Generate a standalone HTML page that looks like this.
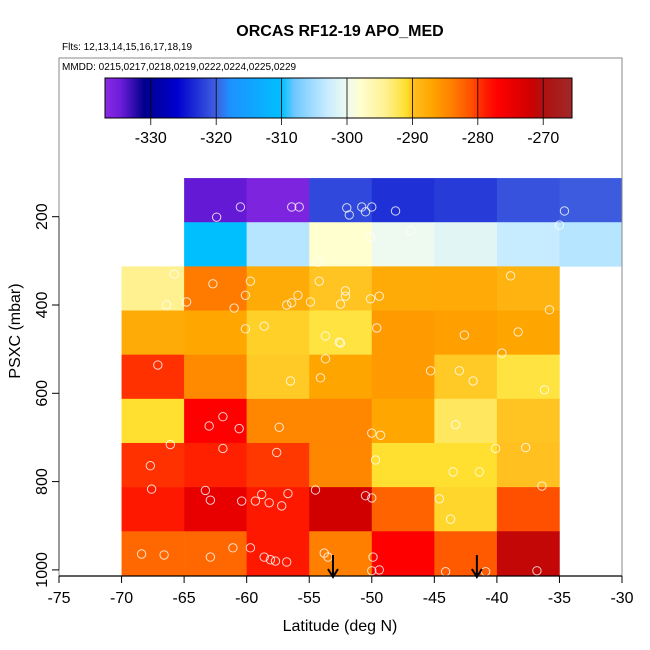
<!DOCTYPE html>
<html><head><meta charset="utf-8"><style>
html,body{margin:0;padding:0;background:#fff}
svg{display:block;font-family:"Liberation Sans",Arial,sans-serif}
</style></head><body>
<svg id="chart" width="650" height="650" viewBox="0 0 650 650">
<text x="340" y="36" text-anchor="middle" font-size="16" font-weight="bold">ORCAS RF12-19 APO_MED</text>
<text x="62" y="50" font-size="10">Flts: 12,13,14,15,16,17,18,19</text>
<g id="plot"></g>
</svg>
<script>
const latEdges0 = [-65,-60,-55,-50,-45,-40,-35,-30];
const latEdges1 = [-70,-65,-60,-55,-50,-45,-40,-35];
const presTop = [112.5,212.5,312.5,412.5,512.5,612.5,712.5,812.5,912.5];
const cellValues = [
 [-334.3,-336,-321.5,-323,-322.3,-320.8,-320.3],
 [-310,-304,-298,-300,-301,-303,-304],
 [-294,-283.7,-287.7,-290.1,-287.7,-287.6,-288.6],
 [-287.7,-287.1,-290.5,-291.5,-286.2,-286.6,-287],
 [-279.7,-284.8,-290.3,-287,-286.2,-290.3,-291.5],
 [-291,-277,-284.6,-284.6,-287.1,-292.5,-290.1],
 [-279.7,-279,-280,-284.6,-291,-291,-290],
 [-278.5,-274.6,-278.5,-272,-282.2,-290.7,-281],
 [-282.5,-282.5,-278.5,-284,-277,-281.6,-271.2]
];
const pointLat = [-60.5,-62.4,-56.4,-55.8,-52.0,-51.8,-50.8,-50.5,-50.0,-48.1,-34.6,-46.9,-50.1,-35.0,-54.3,-65.8,-62.7,-59.7,-60.1,-64.8,-66.4,-61.0,-55.9,-56.4,-56.8,-54.9,-54.2,-52.1,-52.1,-52.5,-50.1,-49.4,-38.9,-35.8,-60.1,-58.6,-53.7,-52.6,-52.5,-53.7,-49.6,-42.6,-38.3,-39.6,-67.1,-56.5,-54.1,-45.3,-43.0,-41.9,-36.2,-61.9,-63.0,-60.6,-61.9,-66.1,-57.4,-57.6,-50.0,-49.3,-43.3,-40.1,-37.7,-67.7,-63.3,-58.8,-58.2,-56.7,-59.3,-60.4,-50.5,-49.7,-43.5,-41.4,-36.4,-44.6,-67.6,-62.9,-57.2,-54.5,-50.0,-43.7,-68.4,-66.6,-62.9,-61.1,-59.7,-58.6,-58.1,-57.7,-56.8,-53.8,-53.5,-49.9,-50.0,-49.4,-44.1,-40.9,-36.8];
const pointPres = [178,201,178,178,180,196,178,189,178,187,187,232,246,219,303,330,352,346,378,393,400,407,378,395,400,393,346,368,380,398,386,380,334,411,454,448,470,484,486,522,452,468,461,509,536,572,565,549,549,572,592,653,674,680,725,716,677,734,690,695,671,725,723,764,820,829,848,827,844,844,832,751,778,778,810,839,817,842,855,819,837,885,964,966,971,950,950,971,977,980,982,962,971,971,1002,1000,1004,1004,1002];
const arrowLat = [-53.1,-41.6];
const xTicks = [-75,-70,-65,-60,-55,-50,-45,-40,-35,-30];
const yTicks = [200,400,600,800,1000];
const cbTicks = [-330,-320,-310,-300,-290,-280,-270];

const X0=59,X1=622,Y0=58,Y1=576;
function xs(lat){return 59+(lat+75)*(563/45);}
function ys(p){return 216.7+(p-200)*0.4415;}
const CBMIN=-337,CBMAX=-265.6,CBX0=105,CBX1=572;
function cbx(v){return CBX0+(v-CBMIN)/(CBMAX-CBMIN)*(CBX1-CBX0);}
const stops=[[-337,'#8a2be2'],[-334.5,'#6a1cd8'],[-331,'#00008b'],[-326,'#0000cd'],[-320,'#4060e0'],[-318,'#1e90ff'],[-310,'#00bfff'],[-308,'#70c8ff'],[-303,'#c8ecff'],[-300,'#eefaf0'],[-298,'#ffffd0'],[-294,'#fff090'],[-291,'#ffe030'],[-290,'#ffc020'],[-287,'#ffa500'],[-284,'#ff8000'],[-281,'#ff5000'],[-279,'#ff2000'],[-277,'#ff0000'],[-272,'#d00000'],[-270,'#b01010'],[-265.6,'#a02828']];
function hx(c){return [1,3,5].map(i=>parseInt(c.substr(i,2),16));}
function col(v){
 if(v<=stops[0][0])return stops[0][1];
 for(let i=1;i<stops.length;i++){ if(v<=stops[i][0]){const a=stops[i-1],b=stops[i];const t=(v-a[0])/(b[0]-a[0]);const ca=hx(a[1]),cb=hx(b[1]);return 'rgb('+ca.map((x,k)=>Math.round(x+(cb[k]-x)*t)).join(',')+')';}}
 return stops[stops.length-1][1];
}
const NS='http://www.w3.org/2000/svg';
const g=document.getElementById('plot');
function mk(tag,attrs,parent){const e=document.createElementNS(NS,tag);for(const k in attrs)e.setAttribute(k,attrs[k]);(parent||g).appendChild(e);return e;}

// cells
const cells=mk('g',{});


cellValues.forEach((row,r)=>{
 const edges=r<2?latEdges0:latEdges1;
 row.forEach((v,c)=>{
  const x=xs(edges[c]),x2=xs(edges[c+1]),y=ys(presTop[r]),y2=ys(presTop[r]+100);
  const e=mk('rect',{x:x,y:y,width:x2-x+0.3,height:y2-y+0.3,fill:col(v)},cells);
  
  
 });
});
// points
const pts=mk('g',{});


pointLat.forEach((la,i)=>{
 const e=mk('circle',{cx:xs(la),cy:ys(pointPres[i]),r:4.2,fill:'none',stroke:'rgba(255,255,255,0.8)','stroke-width':1},pts);
 
 
});
// arrows
arrowLat.forEach(la=>{
 const x=xs(la);
 const a=mk('g',{});
 
 
 mk('line',{x1:x,y1:555,x2:x,y2:576,stroke:'#000','stroke-width':2},a);
 mk('path',{d:`M${x-5} ${569}L${x} ${577}L${x+5} ${569}`,stroke:'#000','stroke-width':2,fill:'none'},a);
});
// box
const box=mk('rect',{x:X0,y:Y0,width:X1-X0,height:Y1-Y0,fill:'none',stroke:'#888','stroke-width':1});


const mm=mk('text',{x:62,y:70,'font-size':10});
mm.textContent='MMDD: 0215,0217,0218,0219,0222,0224,0225,0229';


// colorbar
const cb=mk('g',{});


for(let x=CBX0;x<CBX1;x+=1){
 const v=CBMIN+(x+0.5-CBX0)/(CBX1-CBX0)*(CBMAX-CBMIN);
 mk('rect',{x:x,y:78,width:1.2,height:40,fill:col(v)},cb);
}
mk('rect',{x:CBX0,y:78,width:CBX1-CBX0,height:40,fill:'none',stroke:'#000','stroke-width':1},cb);
cbTicks.forEach(t=>{
 const x=cbx(t);
 mk('line',{x1:x,y1:78,x2:x,y2:125,stroke:'#000','stroke-width':0.8},cb);
 const tx=mk('text',{x:x,y:143,'text-anchor':'middle','font-size':16},cb);
 tx.textContent=t;
 
 
});
// x axis
const xa=mk('g',{});


mk('line',{x1:X0,y1:576,x2:X1,y2:576,stroke:'#000','stroke-width':1.2},xa);
xTicks.forEach(t=>{
 const x=xs(t);
 mk('line',{x1:x,y1:576,x2:x,y2:583,stroke:'#000'},xa);
 const tx=mk('text',{x:x,y:603,'text-anchor':'middle','font-size':16},xa);
 tx.textContent=t;
 
 
});
const xl=mk('text',{x:340,y:631,'text-anchor':'middle','font-size':16});
xl.textContent='Latitude (deg N)';


// y axis
const ya=mk('g',{});


mk('line',{x1:X0,y1:ys(200),x2:X0,y2:ys(1000),stroke:'#555','stroke-width':1.2},ya);
yTicks.forEach(t=>{
 const y=ys(t);
 mk('line',{x1:52,y1:y,x2:X0,y2:y,stroke:'#000'},ya);
 const tx=mk('text',{x:0,y:0,'text-anchor':'middle','font-size':16,transform:`translate(47,${y}) rotate(-90)`},ya);
 tx.textContent=t;
 
 
});
const yl=mk('text',{x:0,y:0,'text-anchor':'middle','font-size':16,transform:'translate(20,331) rotate(-90)'});
yl.textContent='PSXC (mbar)';


</script>
</body></html>
